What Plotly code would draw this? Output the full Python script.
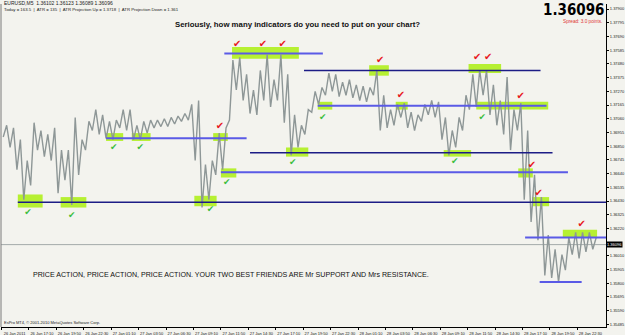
import plotly.graph_objects as go

# ---------------- data (EURUSD M5) ----------------
# high / low of each 8-bar (40 minute) block, starting 26 Jan 2011 14:30
block_high = [1.3701, 1.3699, 1.3690, 1.3674, 1.3703, 1.3697, 1.3694, 1.3699, 1.3682, 1.3682,
              1.3707, 1.3690, 1.3704, 1.3713, 1.3709, 1.3704, 1.3705, 1.3713, 1.3713, 1.3701,
              1.3704, 1.3705, 1.3705, 1.3706, 1.3707, 1.3708, 1.3710, 1.3717, 1.3720, 1.3671,
              1.3674, 1.3695, 1.3699, 1.3751, 1.3753, 1.3740, 1.3728, 1.3743, 1.3755, 1.3736,
              1.3755, 1.3740, 1.3709, 1.3701, 1.3713, 1.3727, 1.3730, 1.3741, 1.3740, 1.3734,
              1.3736, 1.3732, 1.3731, 1.3730, 1.3743, 1.3724, 1.3713, 1.3717, 1.3718, 1.3711,
              1.3709, 1.3717, 1.3720, 1.3719, 1.3707, 1.3697, 1.3707, 1.3724, 1.3740, 1.3743,
              1.3743, 1.3732, 1.3720, 1.3738, 1.3713, 1.3718, 1.3697, 1.3663, 1.3646, 1.3617,
              1.3606, 1.3602, 1.3615, 1.3619, 1.3619, 1.3619, 1.3615]
block_low = [1.3692, 1.3684, 1.3667, 1.3644, 1.3655, 1.3682, 1.3677, 1.3674, 1.3649, 1.3659,
             1.3640, 1.3663, 1.3682, 1.3697, 1.3694, 1.3691, 1.3690, 1.3699, 1.3697, 1.3690,
             1.3690, 1.3695, 1.3699, 1.3700, 1.3700, 1.3702, 1.3704, 1.3705, 1.3674, 1.3638,
             1.3644, 1.3663, 1.3667, 1.3705, 1.3728, 1.3720, 1.3710, 1.3709, 1.3720, 1.3715,
             1.3720, 1.3703, 1.3678, 1.3684, 1.3694, 1.3711, 1.3717, 1.3724, 1.3727, 1.3723,
             1.3724, 1.3722, 1.3720, 1.3719, 1.3724, 1.3697, 1.3699, 1.3701, 1.3707, 1.3699,
             1.3697, 1.3704, 1.3709, 1.3707, 1.3690, 1.3678, 1.3684, 1.3697, 1.3713, 1.3715,
             1.3724, 1.3709, 1.3701, 1.3694, 1.3682, 1.3697, 1.3644, 1.3627, 1.3613, 1.3586,
             1.3584, 1.3581, 1.3590, 1.3602, 1.3599, 1.3604, 1.3606]
BARS_PER_BLOCK = 8

current_price = 1.36096

x_tick_bars = list(range(0, 673, 32))
x_tick_text = ["26 Jan 2011", "26 Jan 17:10", "26 Jan 19:50", "26 Jan 22:30", "27 Jan 01:10",
               "27 Jan 03:50", "27 Jan 06:30", "27 Jan 09:10", "27 Jan 11:50", "27 Jan 14:30",
               "27 Jan 17:10", "27 Jan 19:50", "27 Jan 22:30", "28 Jan 01:10", "28 Jan 03:50",
               "28 Jan 06:30", "28 Jan 09:10", "28 Jan 11:50", "28 Jan 14:30", "28 Jan 17:10",
               "28 Jan 19:50", "28 Jan 22:30"]

# price scale labels (the one under the current-price marker is hidden, as in MT4)
y_tick_vals = [1.37900, 1.37795, 1.37690, 1.37585, 1.37480, 1.37375, 1.37270, 1.37165,
               1.37060, 1.36955, 1.36850, 1.36745, 1.36640, 1.36535, 1.36430, 1.36325,
               1.36220, 1.36010, 1.35905, 1.35800, 1.35695, 1.35590, 1.35485]
y_tick_text = ["%.5f" % v for v in y_tick_vals]

# support / resistance lines: price level, first bar, last bar, style
level_price = [1.3642, 1.3691, 1.3665, 1.3756, 1.3680, 1.3743, 1.3716, 1.3615, 1.3581]
level_start = [19, 122, 256, 260, 290, 353, 369, 611, 628]
level_end   = [706, 286, 661, 375, 643, 629, 636, 706, 677]
level_dark  = [True, False, False, False, True, True, False, False, False]

# highlighted zones
box_start  = [19, 69, 122, 152, 225, 247, 256, 269, 332, 369, 429, 460, 516, 545, 554, 603, 619, 655]
box_end    = [48, 99, 142, 174, 251, 264, 274, 347, 358, 386, 452, 474, 548, 583, 638, 620, 639, 695]
box_top    = [1.3648, 1.3646, 1.3695, 1.3695, 1.3647, 1.3695, 1.3668, 1.3761, 1.3684, 1.3719,
              1.3747, 1.3719, 1.3682, 1.3748, 1.3719, 1.3668, 1.3646, 1.3621]
box_bottom = [1.3638, 1.3638, 1.3689, 1.3689, 1.3639, 1.3689, 1.3661, 1.3752, 1.3677, 1.3713,
              1.3739, 1.3713, 1.3677, 1.3741, 1.3713, 1.3661, 1.3639, 1.3615]

# check marks
support_bar   = [31, 82, 131, 162, 244, 263, 340, 375, 529, 561]
support_price = [1.3634, 1.3632, 1.3684, 1.3684, 1.3636, 1.3657, 1.3672, 1.3707, 1.3673, 1.3707]
resist_bar    = [275, 305, 328, 255, 442, 466, 555, 568, 606, 619, 627, 677]
resist_price  = [1.3763, 1.3763, 1.3763, 1.3700, 1.3751, 1.3724, 1.3753, 1.3753, 1.3723,
                 1.3670, 1.3649, 1.3625]

# ---------------- figure ----------------
px_x, px_y = [], []
for k, (h, l) in enumerate(zip(block_high, block_low)):
    px_x += [k * BARS_PER_BLOCK + 2, k * BARS_PER_BLOCK + 6]
    px_y += [l, h]

BG = "#F3F3EE"
fig = go.Figure()

shapes = []
for b0, b1, t, b in zip(box_start, box_end, box_top, box_bottom):
    shapes.append(dict(type="rect", xref="x", yref="y", x0=b0, x1=b1, y0=b, y1=t,
                       fillcolor="#B6F032", line=dict(width=0), layer="below"))
# bid line
shapes.append(dict(type="line", xref="paper", yref="y", x0=0, x1=1, y0=current_price,
                   y1=current_price, line=dict(color="#A3AAAA", width=1), layer="below"))
for p, s, e, d in zip(level_price, level_start, level_end, level_dark):
    shapes.append(dict(type="line", xref="x", yref="y", x0=s, x1=e, y0=p, y1=p,
                       line=dict(color="#1C1C86" if d else "#5A5AE6", width=1.5 if d else 2),
                       layer="above"))
# left window border
shapes.append(dict(type="line", xref="paper", yref="paper", x0=0, x1=0, y0=0, y1=1,
                   line=dict(color="#7A7A7A", width=1)))

fig.add_trace(go.Scatter(x=px_x, y=px_y, mode="lines",
                         line=dict(color="#8E9797", width=1.4), hoverinfo="skip"))
fig.add_trace(go.Scatter(x=support_bar, y=support_price, mode="text", text=["✔"] * len(support_bar),
                         textfont=dict(family="DejaVu Sans", size=9, color="#3DBE3D")))
fig.add_trace(go.Scatter(x=resist_bar, y=resist_price, mode="text", text=["✔"] * len(resist_bar),
                         textfont=dict(family="DejaVu Sans", size=10, color="#E8191E")))

def py(p):  # pixel row -> paper y
    return (327 - p) / 323.0

def pxx(p):  # pixel column -> paper x
    return (p - 1) / 605.0

ann = [
    dict(text="EURUSD,M5  1.36102 1.36123 1.36089 1.36096", x=pxx(2), y=py(3),
         font=dict(size=5, color="#222", family="Liberation Sans")),
    dict(text="Today = 163.5  |  ATR = 135  |  ATR Projection Up = 1.3718  |  ATR Projection Down = 1.361",
         x=pxx(2), y=py(10), font=dict(size=4.3, color="#222", family="Liberation Sans")),
    dict(text="<b>Seriously, how many indicators do you need to put on your chart?</b>",
         x=pxx(297), y=py(25), xanchor="center",
         font=dict(size=7.8, color="#111", family="Liberation Sans")),
    dict(text="<b>1.36096</b>", x=pxx(606), y=py(10), xanchor="right",
         font=dict(size=15, color="#000", family="Liberation Sans Narrow, DejaVu Sans Condensed")),
    dict(text="Spread: 3.0 points.", x=pxx(604), y=py(22), xanchor="right",
         font=dict(size=4.7, color="#E03434", family="Liberation Sans")),
    dict(text="PRICE ACTION, PRICE ACTION, PRICE ACTION. YOUR TWO BEST FRIENDS ARE Mr SUPPORT AND Mrs RESISTANCE.",
         x=pxx(31), y=py(275), font=dict(size=7.1, color="#111", family="Liberation Sans")),
    dict(text="EsPro MT4, © 2001-2010 MetaQuotes Software Corp.", x=pxx(2), y=py(322),
         font=dict(size=4, color="#222", family="Liberation Sans")),
]
annotations = []
for a in ann:
    d = dict(xref="paper", yref="paper", showarrow=False, xanchor="left", yanchor="middle")
    d.update(a)
    annotations.append(d)
annotations.append(dict(xref="paper", yref="y", x=1.0, y=current_price, xanchor="left",
                        yanchor="middle", showarrow=False, text="1.36096", bgcolor="#000",
                        borderpad=0, font=dict(size=4, color="#FFF", family="Liberation Sans")))

fig.update_layout(
    width=625, height=335, margin=dict(l=1, r=19, t=4, b=8),
    paper_bgcolor=BG, plot_bgcolor=BG, showlegend=False,
    shapes=shapes, annotations=annotations,
    xaxis=dict(range=[-0.6, 705.4], tickvals=x_tick_bars, ticktext=x_tick_text,
               showgrid=False, zeroline=False, showline=True, linecolor="#000", linewidth=1,
               ticks="outside", ticklen=2, tickcolor="#000", ticklabelshift=13,
               tickfont=dict(size=4, color="#222", family="Liberation Sans"), automargin=False),
    yaxis=dict(range=[1.35465, 1.37939], side="right", tickvals=y_tick_vals, ticktext=y_tick_text,
               showgrid=False, zeroline=False, showline=True, linecolor="#000", linewidth=1,
               ticks="outside", ticklen=2, tickcolor="#000",
               tickfont=dict(size=4, color="#222", family="Liberation Sans"), automargin=False),
)

fig.write_html("out.html")
